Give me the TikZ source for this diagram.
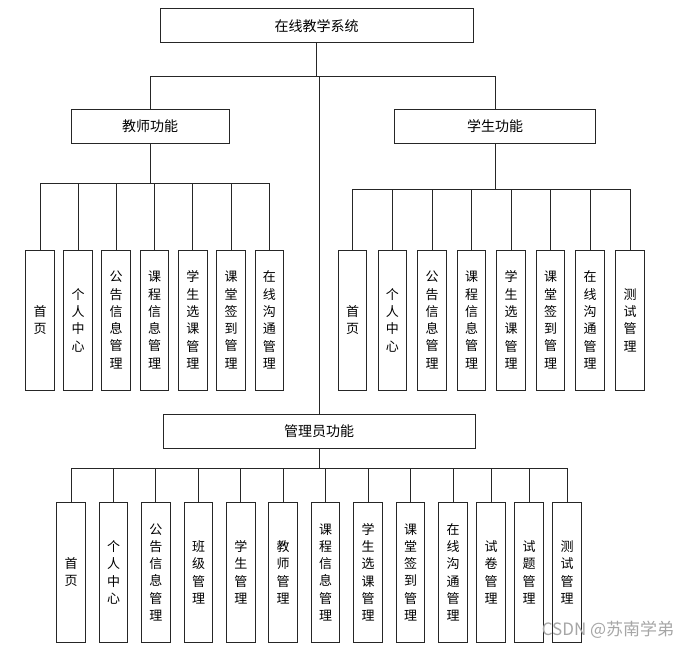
\documentclass[tikz,border=0pt]{standalone}
\usepackage{fontspec}
\setmainfont{Noto Sans CJK SC}
\tikzset{
	box/.style={draw=black!85, line width=1pt, fill=white, inner sep=0pt, font=\fontsize{14}{16}\selectfont},
	leaf/.style={box, minimum width=28.5, minimum height=140, align=center, font=\fontsize{13}{17.3}\selectfont},
	link/.style={draw=black!85, line width=1pt}
}

\begin{document}
\begin{tikzpicture}[x=1pt, y=-1pt]
		\useasboundingbox (0, 0) rectangle (692, 650);
		
		% upper levels
		\node[box, minimum width=313, minimum height=34] (sys) at (316.5, 26) {在线教学系统};
		\node[box, minimum width=158, minimum height=34.5] (teacher) at (150, 126.5) {教师功能};
		\node[box, minimum width=201, minimum height=34.5] (student) at (495, 126.5) {学生功能};
		\node[box, minimum width=312, minimum height=33.5] (admin) at (319, 431.5) {管理员功能};
		
		\draw[link] (sys.south) -- ++(0, 33) -| (teacher.north);
		\draw[link] (sys.south) -- ++(0, 33) -| (student.north);
		\draw[link] (sys.south) -- ++(0, 33) -| (admin.north);
		
		% teacher
		\node[leaf] (t1) at (40.2, 320) {首\\页};
		\node[leaf] (t2) at (78, 320) {个\\人\\中\\心};
		\node[leaf] (t3) at (116.2, 320) {公\\告\\信\\息\\管\\理};
		\node[leaf] (t4) at (154.5, 320) {课\\程\\信\\息\\管\\理};
		\node[leaf] (t5) at (192.8, 320) {学\\生\\选\\课\\管\\理};
		\node[leaf] (t6) at (231, 320) {课\\堂\\签\\到\\管\\理};
		\node[leaf] (t7) at (269.3, 320) {在\\线\\沟\\通\\管\\理};
		\foreach \k in {t1, t2, t3, t4, t5, t6, t7}
			\draw[link] (teacher.south) -- ++(0, 39) -| (\k.north);
		
		% student
		\node[leaf] (s1) at (352.5, 320) {首\\页};
		\node[leaf] (s2) at (392.3, 320) {个\\人\\中\\心};
		\node[leaf] (s3) at (432, 320) {公\\告\\信\\息\\管\\理};
		\node[leaf] (s4) at (471.5, 320) {课\\程\\信\\息\\管\\理};
		\node[leaf] (s5) at (511, 320) {学\\生\\选\\课\\管\\理};
		\node[leaf] (s6) at (550.5, 320) {课\\堂\\签\\到\\管\\理};
		\node[leaf] (s7) at (590, 320) {在\\线\\沟\\通\\管\\理};
		\node[leaf] (s8) at (630, 320) {测\\试\\管\\理};
		\foreach \k in {s1, s2, s3, s4, s5, s6, s7, s8}
			\draw[link] (student.south) -- ++(0, 45) -| (\k.north);
		
		% admin
		\node[leaf] (a1) at (71.2, 572.3) {首\\页};
		\node[leaf] (a2) at (113.5, 572.3) {个\\人\\中\\心};
		\node[leaf] (a3) at (155.8, 572.3) {公\\告\\信\\息\\管\\理};
		\node[leaf] (a4) at (198.5, 572.3) {班\\级\\管\\理};
		\node[leaf] (a5) at (240.8, 572.3) {学\\生\\管\\理};
		\node[leaf] (a6) at (283.2, 572.3) {教\\师\\管\\理};
		\node[leaf] (a7) at (325.5, 572.3) {课\\程\\信\\息\\管\\理};
		\node[leaf] (a8) at (368, 572.3) {学\\生\\选\\课\\管\\理};
		\node[leaf] (a9) at (410.5, 572.3) {课\\堂\\签\\到\\管\\理};
		\node[leaf] (a10) at (453, 572.3) {在\\线\\沟\\通\\管\\理};
		\node[leaf] (a11) at (491, 572.3) {试\\卷\\管\\理};
		\node[leaf] (a12) at (529, 572.3) {试\\题\\管\\理};
		\node[leaf] (a13) at (567, 572.3) {测\\试\\管\\理};
		\foreach \k in {a1, a2, a3, a4, a5, a6, a7, a8, a9, a10, a11, a12, a13}
			\draw[link] (admin.south) -- ++(0, 19.4) -| (\k.north);
		
		\node[text=black!35, font=\fontsize{17}{19}\selectfont] (mark) at (608, 630) {CSDN @苏南学弟};
	\end{tikzpicture}
\end{document}
